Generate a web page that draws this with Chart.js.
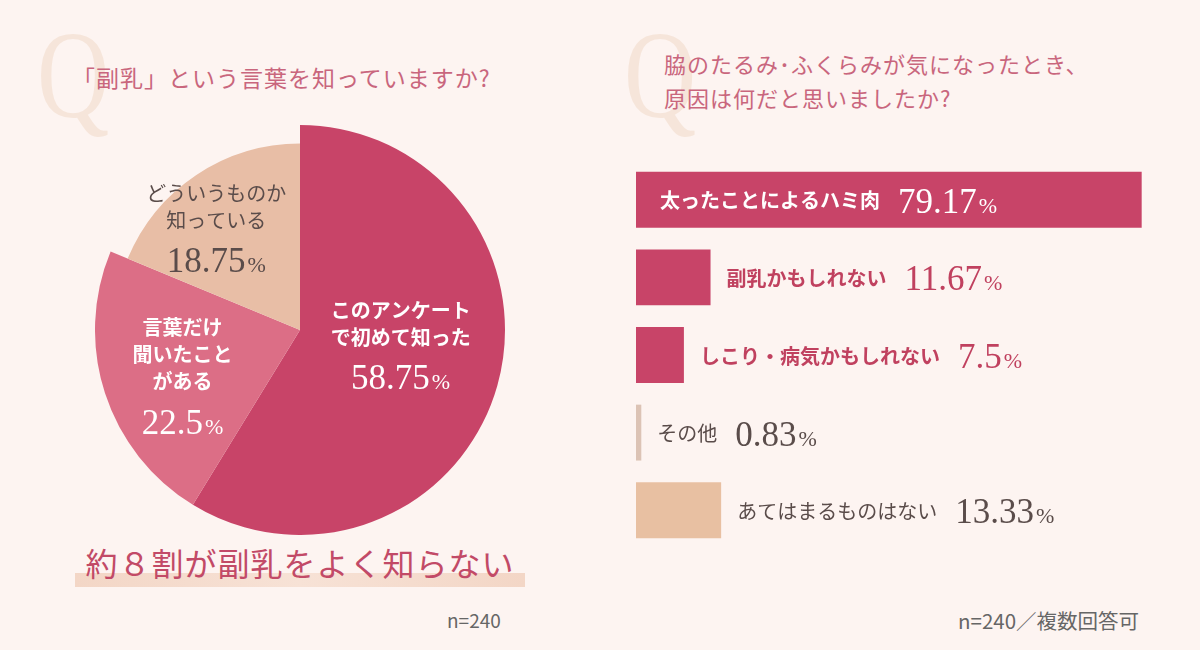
<!DOCTYPE html>
<html lang="ja">
<head>
<meta charset="utf-8">
<script src="https://cdn.jsdelivr.net/npm/chart.js@4.4.1/dist/chart.umd.min.js"></script>
<style>
  body { margin: 0; background: #fdf4f1; }
  #wrap { position: relative; width: 1200px; height: 650px; overflow: hidden; background: #fdf4f1;
          font-family: "Noto Sans CJK JP", sans-serif; }
  .q { position: absolute; font-family: "Liberation Serif", serif; font-size: 125px; line-height: 1; color: #f6e5da;
       transform: scaleX(0.8); transform-origin: left top; }
  .title { position: absolute; color: #c9667d; font-size: 22px; line-height: 34px; letter-spacing: 1px; white-space: nowrap; }
  .note { position: absolute; color: #666; font-size: 19px; white-space: nowrap; }
  #lead { position: absolute; left: 60px; top: 539px; width: 480px; text-align: center; color: #c24a67;
          font-size: 32px; letter-spacing: 1px; white-space: nowrap; z-index: 2; }
  #leadbar { position: absolute; left: 75px; top: 573px; width: 450px; height: 14px;
             background: linear-gradient(90deg, #f3d6c6, #f7e2d6 50%, #f3d6c6); z-index: 1; }
  canvas { position: absolute; }
</style>
</head>
<body>
<div id="wrap">
  <div class="q" style="left:37px; top:13px;">Q</div>
  <div class="q" style="left:624px; top:13px;">Q</div>

  <div class="title" style="left:72px; top:60px; font-size:23px;">「副乳」という言葉を知っていますか?</div>
  <div class="title" style="left:664px; top:46px;">脇のたるみ･ふくらみが気になったとき、<br>原因は何だと思いましたか?</div>

  <canvas id="pieChart" width="410" height="410" style="left:95px; top:125px;"></canvas>
  <canvas id="barChart" width="564" height="388" style="left:636px; top:161px;"></canvas>

  <div id="leadbar"></div>
  <div id="lead">約８割が副乳をよく知らない</div>

  <div class="note" style="left:447px; top:606px;">n=240</div>
  <div class="note" style="left:958px; top:605px; font-size:20.5px;">n=240／複数回答可</div>
</div>

<script>
// left: 「副乳」という言葉を知っていますか?
const pieLabels = [
  ['このアンケート', 'で初めて知った'],
  ['言葉だけ', '聞いたこと', 'がある'],
  ['どういうものか', '知っている']
];
const pieValues = [58.75, 22.5, 18.75];

// right: 原因は何だと思いましたか? (複数回答)
const barLabels = ['太ったことによるハミ肉', '副乳かもしれない', 'しこり・病気かもしれない', 'その他', 'あてはまるものはない'];
const barValues = [79.17, 11.67, 7.5, 0.83, 13.33];

const pieColors = ['#c84468', '#dc6e86', '#e8bea6'];
const pieTextColors = ['#ffffff', '#ffffff', '#5a4c4a'];
const pieTextWeights = ['bold', 'bold', 'normal'];
const pieTextOffsets = [[2, -14], [-20, 13], [-32, -26]];

const barColors = ['#c84468', '#c84468', '#c84468', '#dcc3b5', '#e8c0a2'];
const barTextColors = ['#ffffff', '#c0415f', '#c0415f', '#5a4c4a', '#5a4c4a'];
const barTextWeights = ['bold', 'bold', 'bold', 'normal', 'normal'];

const JP = '"Noto Sans CJK JP", sans-serif';
const SERIF = '"Liberation Serif", serif';

function drawPercent(ctx, value, x, y, color, align) {
  const num = String(value);
  ctx.font = '35px ' + SERIF;
  const w1 = ctx.measureText(num).width;
  ctx.font = '22px ' + SERIF;
  const w2 = ctx.measureText('%').width;
  const start = align === 'center' ? x - (w1 + w2 + 2) / 2 : x;
  ctx.fillStyle = color;
  ctx.textAlign = 'left';
  ctx.textBaseline = 'alphabetic';
  ctx.font = '35px ' + SERIF;
  ctx.fillText(num, start, y);
  ctx.font = '22px ' + SERIF;
  ctx.fillText('%', start + w1 + 2, y);
  return w1 + w2 + 2;
}

const pieLabelPlugin = {
  id: 'pieLabels',
  beforeDatasetsDraw(chart) {
    // the small beige slice sits a little inside the others
    const arcs = chart.getDatasetMeta(0).data;
    arcs[2].outerRadius = arcs[0].outerRadius * 0.91;
  },
  afterDatasetsDraw(chart) {
    const ctx = chart.ctx;
    const arcs = chart.getDatasetMeta(0).data;
    ctx.save();
    arcs.forEach((arc, i) => {
      const p = arc.tooltipPosition();
      const cx = p.x + pieTextOffsets[i][0];
      const lines = pieLabels[i];
      const blockH = (lines.length - 1) * 27 + 40;
      let y = p.y + pieTextOffsets[i][1] - blockH / 2;
      ctx.fillStyle = pieTextColors[i];
      ctx.textAlign = 'center';
      ctx.textBaseline = 'middle';
      ctx.font = pieTextWeights[i] + ' 20px ' + JP;
      lines.forEach(line => {
        ctx.fillText(line, cx, y);
        y += 27;
      });
      drawPercent(ctx, pieValues[i], cx, y - 27 + 40 + 12, pieTextColors[i], 'center');
    });
    ctx.restore();
  }
};

new Chart(document.getElementById('pieChart'), {
  type: 'pie',
  data: {
    labels: pieLabels.map(l => l.join('')),
    datasets: [{
      data: pieValues,
      backgroundColor: pieColors,
      borderWidth: 0
    }]
  },
  options: {
    responsive: false,
    animation: false,
    rotation: 0,
    plugins: { legend: { display: false }, tooltip: { enabled: false } }
  },
  plugins: [pieLabelPlugin]
});

const barLabelPlugin = {
  id: 'barLabels',
  afterDatasetsDraw(chart) {
    const ctx = chart.ctx;
    const bars = chart.getDatasetMeta(0).data;
    const left = chart.scales.x.getPixelForValue(0);
    ctx.save();
    bars.forEach((bar, i) => {
      const inside = barValues[i] > 50;
      let x = inside ? left + 24 : bar.x + 16;
      ctx.fillStyle = barTextColors[i];
      ctx.textAlign = 'left';
      ctx.textBaseline = 'middle';
      ctx.font = barTextWeights[i] + ' 20px ' + JP;
      ctx.fillText(barLabels[i], x, bar.y + 1);
      x += ctx.measureText(barLabels[i]).width + 18;
      drawPercent(ctx, barValues[i], x, bar.y + 13, barTextColors[i], 'left');
    });
    ctx.restore();
  }
};

new Chart(document.getElementById('barChart'), {
  type: 'bar',
  data: {
    labels: barLabels,
    datasets: [{
      data: barValues,
      backgroundColor: barColors,
      borderWidth: 0,
      barPercentage: 0.72,
      categoryPercentage: 1
    }]
  },
  options: {
    indexAxis: 'y',
    responsive: false,
    animation: false,
    layout: { padding: 0 },
    scales: {
      x: { display: false, min: 0, max: 88.3 },
      y: { display: false }
    },
    plugins: { legend: { display: false }, tooltip: { enabled: false } }
  },
  plugins: [barLabelPlugin]
});
</script>
</body>
</html>
